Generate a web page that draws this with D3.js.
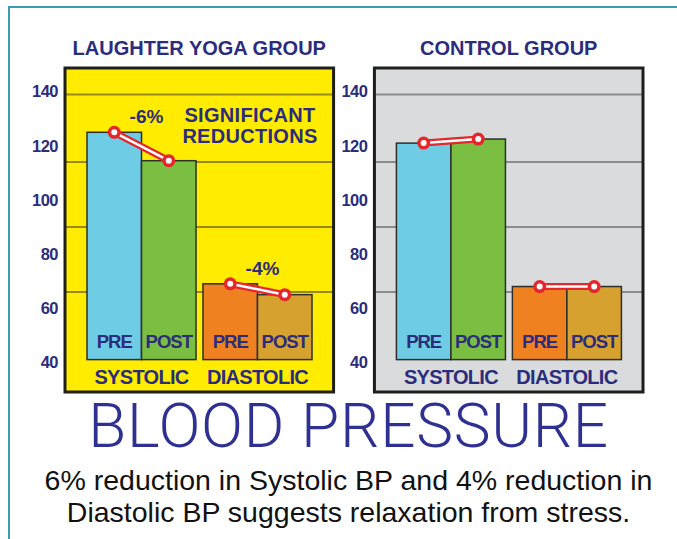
<!DOCTYPE html>
<html>
<head>
<meta charset="utf-8">
<script src="https://cdn.jsdelivr.net/npm/d3@7"></script>
<style>
  body { margin: 0; background: #fff; }
  svg { display: block; }
</style>
</head>
<body>
<script>
// chart values
var groups = ["LAUGHTER YOGA GROUP", "CONTROL GROUP"];
var measures = ["SYSTOLIC", "DIASTOLIC"];
var phases = ["PRE", "POST"];
var laughterSystolic = [125, 114.5];   // pre, post
var laughterDiastolic = [69, 65];
var controlSystolic = [121, 122.5];
var controlDiastolic = [68, 68];
var changeLabels = ["-6%", "-4%"];
var yTicks = [140, 120, 100, 80, 60, 40];
var gridValues = [139, 114, 90, 66];   // the grid lines don't sit on the tick labels in the original
var note = ["SIGNIFICANT", "REDUCTIONS"];
var caption = ["6% reduction in Systolic BP and 4% reduction in",
               "Diastolic BP suggests relaxation from stress."];

var width = 677,
    height = 539;

var navy = "#2b2c7c";
var barColors = { SYSTOLIC: ["#6fcce5", "#7bbf42"], DIASTOLIC: ["#f08121", "#d6a12e"] };

var panels = [
  { group: groups[0], fill: "#ffec00", grid: "#978a10",
    values: [laughterSystolic, laughterDiastolic], changes: changeLabels },
  { group: groups[1], fill: "#d9dbdc", grid: "#8a8c8e",
    values: [controlSystolic, controlDiastolic], changes: null }
];

var svg = d3.select("body").append("svg")
  .attr("width", width)
  .attr("height", height);

// teal frame along top and left
svg.append("path")
  .attr("d", "M9," + height + "V7H" + width)
  .style("fill", "none")
  .style("stroke", "#3a9bb3")
  .style("stroke-width", 2);

var panelX = d3.scaleBand().domain(groups).range([65, 643]).paddingInner(0.132);
var measureX = d3.scaleBand().domain(measures).range([22, 247]).paddingInner(0.06);
var phaseX = d3.scaleBand().domain(phases).range([0, measureX.bandwidth()]);
var y = d3.scaleLinear().domain([40, 140]).range([362.3, 91.7]);

var boxTop = 68,
    boxBottom = 392,
    base = 41;

panels.forEach(function(p) {
  var g = svg.append("g")
    .attr("transform", "translate(" + panelX(p.group) + ",0)");
  var pw = panelX.bandwidth();

  g.append("rect")
    .attr("x", 0).attr("y", boxTop)
    .attr("width", pw).attr("height", boxBottom - boxTop)
    .style("fill", p.fill);

  g.selectAll(".grid")
    .data(gridValues)
    .enter().append("line")
    .attr("x1", 0).attr("x2", pw)
    .attr("y1", function(d) { return y(d); })
    .attr("y2", function(d) { return y(d); })
    .style("stroke", p.grid)
    .style("stroke-width", 2);

  // title
  g.append("text")
    .attr("x", pw / 2).attr("y", boxTop - 13)
    .attr("text-anchor", "middle")
    .style("font-family", "Liberation Sans, Arial, sans-serif")
    .style("font-weight", "bold")
    .style("font-size", "20px")
    .style("fill", navy)
    .text(p.group);

  // y axis labels
  var axis = g.append("g")
    .call(d3.axisLeft(y).tickValues(yTicks).tickSize(0).tickPadding(7));
  axis.select(".domain").remove();
  axis.selectAll("text")
    .style("font-family", "Liberation Sans, Arial, sans-serif")
    .style("font-weight", "bold")
    .style("font-size", "16.5px")
    .style("letter-spacing", "-0.5px")
    .style("fill", navy);

  var mg = g.selectAll(".measure")
    .data(measures)
    .enter().append("g")
    .attr("transform", function(m) { return "translate(" + measureX(m) + ",0)"; });

  mg.each(function(m, i) {
    var sel = d3.select(this);
    var vals = p.values[i];

    sel.selectAll("rect")
      .data(phases)
      .enter().append("rect")
      .attr("x", function(ph) { return phaseX(ph); })
      .attr("y", function(ph, j) { return y(vals[j]); })
      .attr("width", phaseX.bandwidth())
      .attr("height", function(ph, j) { return y(base) - y(vals[j]); })
      .style("fill", function(ph, j) { return barColors[m][j]; })
      .style("stroke", "#2d2f2a")
      .style("stroke-width", 1.5);

    sel.selectAll(".phase")
      .data(phases)
      .enter().append("text")
      .attr("x", function(ph) { return phaseX(ph) + phaseX.bandwidth() / 2; })
      .attr("y", y(base) - 12)
      .attr("text-anchor", "middle")
      .style("font-family", "Liberation Sans, Arial, sans-serif")
      .style("font-weight", "bold")
      .style("font-size", "18.5px")
      .style("letter-spacing", "-1px")
      .style("fill", navy)
      .text(function(ph) { return ph; });

    sel.append("text")
      .attr("x", measureX.bandwidth() / 2)
      .attr("y", y(base) + 24)
      .attr("text-anchor", "middle")
      .style("font-family", "Liberation Sans, Arial, sans-serif")
      .style("font-weight", "bold")
      .style("font-size", "20px")
      .style("letter-spacing", "-0.7px")
      .style("fill", navy)
      .text(m);

    // red connector pre -> post
    var pts = phases.map(function(ph, j) {
      return [phaseX(ph) + phaseX.bandwidth() / 2, y(vals[j])];
    });
    var line = d3.line();
    sel.append("path").attr("d", line(pts))
      .style("stroke", "#e5262b").style("stroke-width", 7)
      .style("stroke-linecap", "round").style("fill", "none");
    sel.append("path").attr("d", line(pts))
      .style("stroke", "#fff").style("stroke-width", 2.5)
      .style("fill", "none");
    sel.selectAll(".dot")
      .data(pts)
      .enter().append("circle")
      .attr("cx", function(d) { return d[0]; })
      .attr("cy", function(d) { return d[1]; })
      .attr("r", 6.5)
      .style("fill", "#e5262b");
    sel.selectAll(".dotin")
      .data(pts)
      .enter().append("circle")
      .attr("cx", function(d) { return d[0]; })
      .attr("cy", function(d) { return d[1]; })
      .attr("r", 3)
      .style("fill", "#fff");

    if (p.changes) {
      sel.append("text")
        .attr("x", measureX.bandwidth() / 2 + 5)
        .attr("y", y(vals[0]) - 9)
        .attr("text-anchor", "middle")
        .style("font-family", "Liberation Sans, Arial, sans-serif")
        .style("font-weight", "bold")
        .style("font-size", "19px")
        .style("fill", navy)
        .text(p.changes[i]);
    }
  });

  if (p.changes) {
    g.selectAll(".note")
      .data(note)
      .enter().append("text")
      .attr("x", 185)
      .attr("y", function(d, i) { return y(140) + 30 + i * 21; })
      .attr("text-anchor", "middle")
      .style("font-family", "Liberation Sans, Arial, sans-serif")
      .style("font-weight", "bold")
      .style("font-size", "20px")
      .style("letter-spacing", "0.3px")
      .style("fill", navy)
      .text(function(d) { return d; });
  }

  // box outline on top
  g.append("rect")
    .attr("x", 0).attr("y", boxTop)
    .attr("width", pw).attr("height", boxBottom - boxTop)
    .style("fill", "none")
    .style("stroke", "#1e1f1c")
    .style("stroke-width", 3);
});

svg.append("text")
  .attr("x", 348.5).attr("y", 447)
  .attr("text-anchor", "middle")
  .style("font-family", "Roboto, sans-serif")
  .style("font-weight", 300)
  .style("font-size", "62px")
  .style("letter-spacing", "0.75px")
  .style("fill", "#2e3192")
  .text("BLOOD PRESSURE");

svg.selectAll(".caption")
  .data(caption)
  .enter().append("text")
  .attr("x", 348.5)
  .attr("y", function(d, i) { return 490 + i * 32; })
  .attr("text-anchor", "middle")
  .style("font-family", "Liberation Sans, Arial, sans-serif")
  .style("font-size", "28.5px")
  .style("fill", "#111")
  .text(function(d) { return d; });
</script>
</body>
</html>
